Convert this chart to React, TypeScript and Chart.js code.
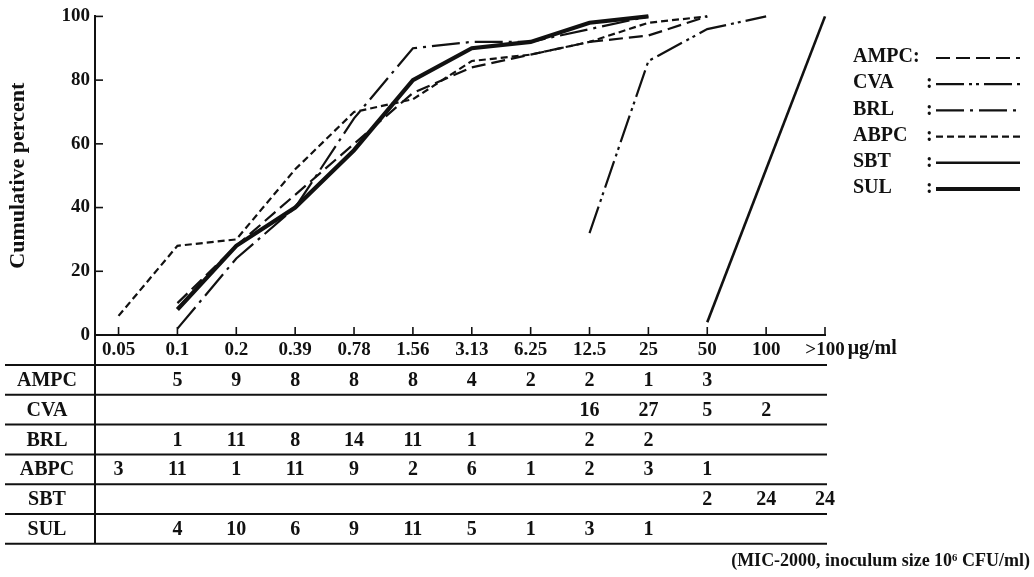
import { useEffect, useRef } from 'react';
import { Chart, registerables } from 'chart.js';

Chart.register(...registerables);

const FONT = "'Liberation Serif', 'Times New Roman', serif";
const INK = '#111111';

// MIC categories (x axis tick labels)
const mics = ['0.05', '0.1', '0.2', '0.39', '0.78', '1.56', '3.13', '6.25', '12.5', '25', '50', '100', '>100'];
const drugs = ['AMPC', 'CVA', 'BRL', 'ABPC', 'SBT', 'SUL'];
const yTicks = [0, 20, 40, 60, 80, 100];

const N = null;
// cumulative percent
const ampcCum = [N, 10, 28, 44, 60, 76, 84, 88, 92, 94, 100, N, N];
const cvaCum = [N, N, N, N, N, N, N, N, 32, 86, 96, 100, N];
const brlCum = [N, 2, 24, 40, 68, 90, 92, 92, 96, 100, N, N, N];
const abpcCum = [6, 28, 30, 52, 70, 74, 86, 88, 92, 98, 100, N, N];
const sbtCum = [N, N, N, N, N, N, N, N, N, N, 4, 52, 100];
const sulCum = [N, 8, 28, 40, 58, 80, 90, 92, 98, 100, N, N, N];

// number of strains per MIC (table below the chart)
const ampcN = [N, 5, 9, 8, 8, 8, 4, 2, 2, 1, 3, N, N];
const cvaN = [N, N, N, N, N, N, N, N, 16, 27, 5, 2, N];
const brlN = [N, 1, 11, 8, 14, 11, 1, N, 2, 2, N, N, N];
const abpcN = [3, 11, 1, 11, 9, 2, 6, 1, 2, 3, 1, N, N];
const sbtN = [N, N, N, N, N, N, N, N, N, N, 2, 24, 24];
const sulN = [N, 4, 10, 6, 9, 11, 5, 1, 3, 1, N, N, N];

const cumSeries = [ampcCum, cvaCum, brlCum, abpcCum, sbtCum, sulCum];
const countRows = [ampcN, cvaN, brlN, abpcN, sbtN, sulN];
const legendLabels = ['AMPC:', 'CVA', 'BRL', 'ABPC', 'SBT', 'SUL'];

const styles = [
  { width: 2.2, dash: [14, 6] },
  { width: 2.2, dash: [28, 5, 3, 4, 3, 5] },
  { width: 2.2, dash: [28, 6, 3, 6] },
  { width: 2.2, dash: [7, 4] },
  { width: 2.6, dash: [] as number[] },
  { width: 4.2, dash: [] as number[] },
];

const footnote = '(MIC-2000, inoculum size 10⁶ CFU/ml)';

const extrasPlugin = {
  id: 'extras',
  afterDraw(chart: any) {
    const ctx = chart.ctx as CanvasRenderingContext2D;
    const xs = chart.scales.x;
    const ys = chart.scales.y;
    const area = chart.chartArea;
    ctx.save();
    ctx.strokeStyle = INK;
    ctx.fillStyle = INK;
    ctx.lineCap = 'butt';

    // inward tick marks
    ctx.lineWidth = 1.6;
    mics.forEach((_, i) => {
      const px = xs.getPixelForValue(i);
      ctx.beginPath();
      ctx.moveTo(px, area.bottom);
      ctx.lineTo(px, area.bottom - 8);
      ctx.stroke();
    });
    yTicks.forEach((v) => {
      const py = ys.getPixelForValue(v);
      ctx.beginPath();
      ctx.moveTo(area.left, py);
      ctx.lineTo(area.left + 8, py);
      ctx.stroke();
    });

    // unit after last tick label
    ctx.font = `bold 19px ${FONT}`;
    const lastPx = xs.getPixelForValue(mics.length - 1);
    const w = ctx.measureText(mics[mics.length - 1]).width;
    ctx.font = `bold 20px ${FONT}`;
    ctx.textAlign = 'left';
    ctx.textBaseline = 'middle';
    ctx.fillText('μg/ml', lastPx + w / 2 + 3, 349);

    // table
    const tableTop = 365;
    const rowH = 29.8;
    const tableLeft = 5;
    const tableRight = lastPx + 2;
    ctx.lineWidth = 2;
    for (let r = 0; r <= drugs.length; r++) {
      const y = tableTop + r * rowH;
      ctx.beginPath();
      ctx.moveTo(tableLeft, y);
      ctx.lineTo(tableRight, y);
      ctx.stroke();
    }
    ctx.beginPath();
    ctx.moveTo(area.left, area.bottom);
    ctx.lineTo(area.left, tableTop + drugs.length * rowH);
    ctx.stroke();

    ctx.textAlign = 'center';
    ctx.textBaseline = 'middle';
    drugs.forEach((d, r) => {
      const cy = tableTop + r * rowH + rowH / 2 + 1;
      ctx.font = `bold 20px ${FONT}`;
      ctx.fillText(d, 47, cy);
      countRows[r].forEach((v, i) => {
        if (v == null) return;
        ctx.fillText(String(v), xs.getPixelForValue(i), cy);
      });
    });

    // legend
    const legTop = 57;
    const legStep = 26.2;
    chart.data.datasets.forEach((ds: any, i: number) => {
      const cy = legTop + i * legStep;
      ctx.font = `bold 20px ${FONT}`;
      ctx.textAlign = 'left';
      ctx.fillText(legendLabels[i], 853, cy);
      if (i > 0) ctx.fillText(':', 926, cy);
      ctx.setLineDash(ds.borderDash || []);
      ctx.lineWidth = ds.borderWidth;
      ctx.beginPath();
      ctx.moveTo(936, cy + 1);
      ctx.lineTo(1020, cy + 1);
      ctx.stroke();
      ctx.setLineDash([]);
    });

    // footnote
    ctx.font = `bold 18px ${FONT}`;
    ctx.textAlign = 'right';
    ctx.fillText(footnote, 1030, 561);
    ctx.restore();
  },
};

export default function App() {
  const ref = useRef<HTMLCanvasElement | null>(null);
  useEffect(() => {
    document.body.style.margin = '0';
    const canvas = ref.current;
    if (!canvas) return;
    const datasets = cumSeries.map((series, s) => ({
      label: drugs[s],
      data: series
        .map((v, i) => (v == null ? null : { x: i, y: v }))
        .filter((p) => p !== null),
      borderColor: INK,
      backgroundColor: INK,
      borderWidth: styles[s].width,
      borderDash: styles[s].dash,
      borderCapStyle: 'butt',
      borderJoinStyle: 'miter',
      pointRadius: 0,
      fill: false,
      tension: 0,
      clip: false,
    }));
    const chart = new Chart(canvas, {
      type: 'line',
      data: { datasets: datasets as any },
      options: {
        animation: false,
        responsive: false,
        devicePixelRatio: 1,
        layout: { padding: { left: 0, right: 209, top: 15, bottom: 0 } },
        plugins: { legend: { display: false }, tooltip: { enabled: false } },
        scales: {
          x: {
            type: 'linear',
            min: -0.4,
            max: mics.length - 1,
            afterBuildTicks: (s: any) => {
              s.ticks = mics.map((_, i) => ({ value: i }));
            },
            afterFit: (s: any) => {
              s.height = 242;
            },
            ticks: {
              autoSkip: false,
              maxRotation: 0,
              padding: 4,
              color: INK,
              font: { family: FONT, size: 19, weight: 'bold' },
              callback: (v: any) => mics[v as number] ?? '',
            },
            grid: { display: false, drawTicks: false },
            border: { display: true, width: 2, color: INK },
          },
          y: {
            min: 0,
            max: 100,
            afterBuildTicks: (s: any) => {
              s.ticks = yTicks.map((v) => ({ value: v }));
            },
            afterFit: (s: any) => {
              s.width = 95;
            },
            ticks: {
              padding: 5,
              color: INK,
              font: { family: FONT, size: 19, weight: 'bold' },
            },
            grid: { display: false, drawTicks: false },
            border: { display: true, width: 2, color: INK },
            title: {
              display: true,
              text: 'Cumulative percent',
              color: INK,
              font: { family: FONT, size: 22, weight: 'bold' },
              padding: { top: 5, bottom: 0 },
            },
          },
        },
      },
      plugins: [extrasPlugin],
    });
    return () => chart.destroy();
  }, []);
  return (
    <div style={{ width: 1034, height: 577, background: '#fff' }}>
      <canvas ref={ref} width={1034} height={577} style={{ display: 'block' }} />
    </div>
  );
}
